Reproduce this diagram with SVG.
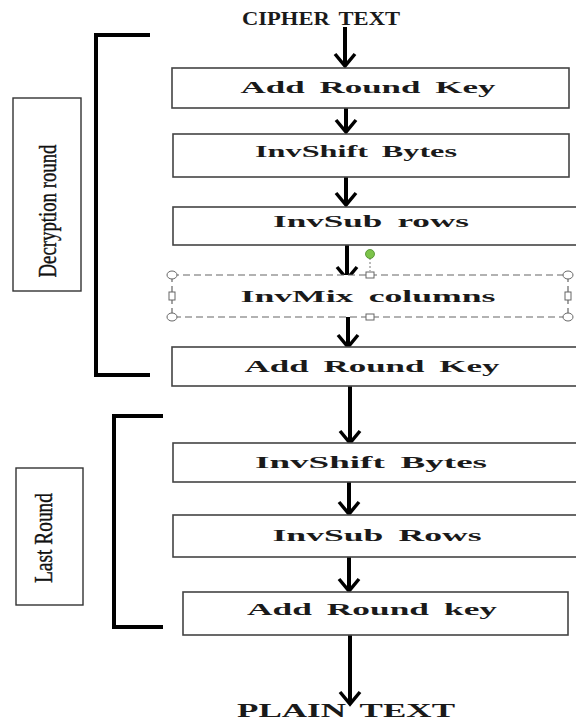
<svg xmlns="http://www.w3.org/2000/svg" width="576" height="720" viewBox="0 0 576 720">
  <defs>
    <marker id="head" markerUnits="userSpaceOnUse" markerWidth="20" markerHeight="28" viewBox="-16 -14 20 28" refX="0" refY="0" orient="auto" overflow="visible">
      <path d="M -12 -10 L 0 0 L -12 10" fill="none" stroke="#000" stroke-width="3.5" stroke-linejoin="miter"/>
    </marker>
  </defs>
  <style>
    .box { fill: #fff; stroke: #444; stroke-width: 1.6; }
    .sel { fill: #fff; stroke: #666; stroke-width: 1.2; stroke-dasharray: 7 4; }
    .lbl { font-family: "Liberation Serif", "DejaVu Serif", serif; font-weight: bold; font-size: 17px; fill: #1a1a1a; text-anchor: middle; }
    .big { font-size: 19px; }
    .side { fill: #fff; stroke: #333; stroke-width: 1.4; }
    .sidet { font-family: "Liberation Serif", serif; font-size: 25px; fill: #111; text-anchor: middle; stroke: #111; stroke-width: 0.4; }
    .brk { fill: none; stroke: #000; stroke-width: 4; }
    .arr { fill: none; stroke: #000; stroke-width: 4; marker-end: url(#head); }
    .hc { fill: #fff; stroke: #666; stroke-width: 1; }
  </style>
  <rect width="576" height="720" fill="#fff"/>

  <!-- brackets and their side labels -->
  <g id="decryption-round">
    <path class="brk" d="M 150 35 L 96 35 L 96 375 L 150 375"/>
    <rect class="side" x="13" y="98" width="68" height="193"/>
    <text class="sidet" transform="translate(56 211) rotate(-90)" textLength="133" lengthAdjust="spacingAndGlyphs">Decryption round</text>
  </g>
  <g id="last-round">
    <path class="brk" d="M 163 416 L 114 416 L 114 627 L 163 627"/>
    <rect class="side" x="16" y="468" width="67" height="137"/>
    <text class="sidet" transform="translate(52 538) rotate(-90)" textLength="90" lengthAdjust="spacingAndGlyphs">Last Round</text>
  </g>

  <!-- connectors -->
  <g id="connectors">
    <line class="arr" x1="345" y1="27" x2="345" y2="66"/>
    <line class="arr" x1="346" y1="108" x2="346" y2="132"/>
    <line class="arr" x1="346" y1="177" x2="346" y2="205"/>
    <line class="arr" x1="347" y1="245" x2="347" y2="279"/>
    <line class="arr" x1="348" y1="317" x2="348" y2="347"/>
    <line class="arr" x1="350" y1="386" x2="350" y2="443"/>
    <line class="arr" x1="349" y1="482" x2="349" y2="514"/>
    <line class="arr" x1="349" y1="557" x2="349" y2="591"/>
    <line class="arr" x1="350" y1="635" x2="350" y2="704"/>
  </g>

  <g id="cipher-text">
    <text class="lbl big" x="321" y="25" textLength="158" lengthAdjust="spacingAndGlyphs" word-spacing="3">CIPHER TEXT</text>
  </g>

  <g id="add-round-key-1">
    <rect class="box" x="172" y="68" width="397" height="40"/>
    <text class="lbl" x="368" y="93" textLength="255" lengthAdjust="spacingAndGlyphs" word-spacing="3">Add Round Key</text>
  </g>
  <g id="invshift-bytes-1">
    <rect class="box" x="173" y="134" width="396" height="43"/>
    <text class="lbl" x="356" y="157" textLength="202" lengthAdjust="spacingAndGlyphs" word-spacing="3">InvShift Bytes</text>
  </g>
  <g id="invsub-rows-1">
    <rect class="box" x="173" y="207" width="410" height="38"/>
    <text class="lbl" x="371" y="227" textLength="196" lengthAdjust="spacingAndGlyphs" word-spacing="3">InvSub rows</text>
  </g>
  <g id="invmix-columns">
    <rect class="sel" x="172" y="275" width="396" height="42"/>
    <text class="lbl" x="368" y="302" textLength="255" lengthAdjust="spacingAndGlyphs" word-spacing="3">InvMix columns</text>
    <!-- selection handles -->
    <line x1="370" y1="258" x2="370" y2="271" stroke="#777" stroke-width="1" stroke-dasharray="2 2"/>
    <circle cx="370" cy="254" r="4.5" fill="#7cc34a" stroke="#4a8a2a" stroke-width="0.8"/>
    <ellipse class="hc" cx="172" cy="275" rx="5" ry="4"/>
    <ellipse class="hc" cx="568" cy="275" rx="5" ry="4"/>
    <ellipse class="hc" cx="172" cy="317" rx="5" ry="4"/>
    <ellipse class="hc" cx="568" cy="317" rx="5" ry="4"/>
    <rect class="hc" x="366" y="272" width="8" height="6" fill="#eef4fa"/>
    <rect class="hc" x="366" y="314" width="8" height="6" fill="#eef4fa"/>
    <rect class="hc" x="169" y="292" width="6" height="8" fill="#eef4fa"/>
    <rect class="hc" x="565" y="292" width="6" height="8" fill="#eef4fa"/>
  </g>
  <g id="add-round-key-2">
    <rect class="box" x="172" y="347" width="411" height="39"/>
    <text class="lbl" x="372" y="372" textLength="255" lengthAdjust="spacingAndGlyphs" word-spacing="3">Add Round Key</text>
  </g>
  <g id="invshift-bytes-2">
    <rect class="box" x="173" y="443" width="410" height="39"/>
    <text class="lbl" x="371" y="468" textLength="232" lengthAdjust="spacingAndGlyphs" word-spacing="3">InvShift Bytes</text>
  </g>
  <g id="invsub-rows-2">
    <rect class="box" x="173" y="515" width="410" height="42"/>
    <text class="lbl" x="377" y="541" textLength="209" lengthAdjust="spacingAndGlyphs" word-spacing="3">InvSub Rows</text>
  </g>
  <g id="add-round-key-3">
    <rect class="box" x="183" y="592" width="385" height="43"/>
    <text class="lbl" x="372" y="615" textLength="250" lengthAdjust="spacingAndGlyphs" word-spacing="3">Add Round key</text>
  </g>

  <g id="plain-text">
    <text class="lbl big" x="346" y="717" textLength="218" lengthAdjust="spacingAndGlyphs" word-spacing="3">PLAIN TEXT</text>
  </g>
</svg>
